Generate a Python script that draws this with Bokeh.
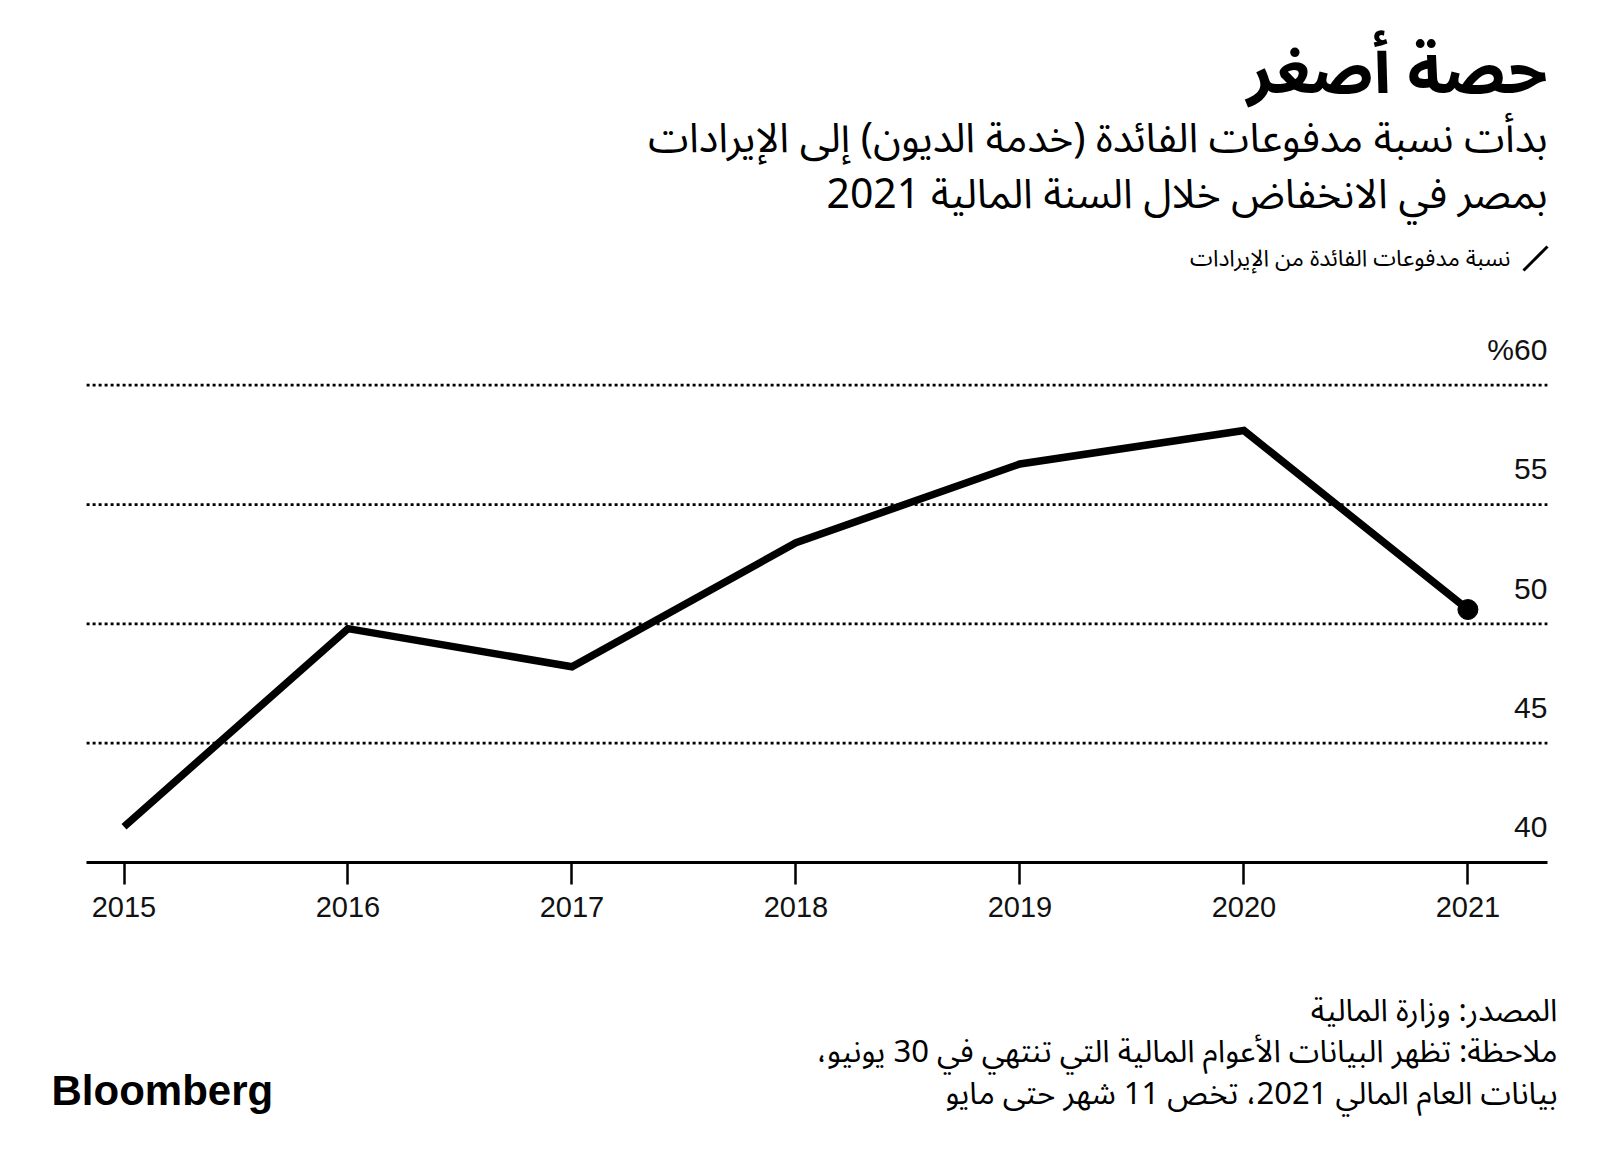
from bokeh.plotting import figure
from bokeh.models import Range1d, FixedTicker, ColumnDataSource
from bokeh.core.properties import value
from bokeh.embed import file_html
from bokeh.resources import INLINE

years = [2015, 2016, 2017, 2018, 2019, 2020, 2021]
ratio = [41.5, 49.8, 48.2, 53.4, 56.7, 58.1, 50.6]
y_ticks = [40, 45, 50, 55, 60]
y_tick_labels = ["40", "45", "50", "55", "%60"]

title = "حصة أصغر"
subtitle1 = "بدأت نسبة مدفوعات الفائدة (خدمة الديون) إلى الإيرادات"
subtitle2 = "بمصر في الانخفاض خلال السنة المالية 2021"
legend_text = "نسبة مدفوعات الفائدة من الإيرادات"
source_text = "المصدر: وزارة المالية"
note1 = "ملاحظة: تظهر البيانات الأعوام المالية التي تنتهي في 30 يونيو،\u200f"
note2 = "بيانات العام المالي 2021، تخص 11 شهر حتى مايو"

AR = "Noto Sans Arabic, Noto Sans, DejaVu Sans, sans-serif"
LAT = "Liberation Sans, Arial, sans-serif"

W, H = 1600, 1167
# plot area bounds (data units)
X_LO, X_HI = 2014.833, 2021.355
# full-canvas ranges so that header / footer texts can live in the same frame
XS, XE = 2014.4486, 2021.592
YB, YT = 27.22, 76.12


def dx(X):
    return XS + X / W * (XE - XS)


def dy(Y):
    return YT - Y / H * (YT - YB)


p = figure(width=W, height=H, output_backend="svg", toolbar_location=None,
           x_range=Range1d(XS, XE), y_range=Range1d(YB, YT),
           y_axis_location=None, min_border=0)
p.outline_line_color = None
p.background_fill_color = "white"
p.border_fill_color = "white"
p.grid.visible = False

ax = p.xaxis[0]
ax.fixed_location = y_ticks[0]
ax.bounds = (X_LO, X_HI)
ax.ticker = FixedTicker(ticks=years)
ax.axis_line_width = 3
ax.axis_line_color = "black"
ax.major_tick_out = 22
ax.major_tick_in = 0
ax.major_tick_line_width = 2.5
ax.major_tick_line_color = "black"
ax.minor_tick_line_color = None
ax.major_label_text_font = LAT
ax.major_label_text_font_size = "29px"
ax.major_label_text_color = "#111111"
ax.major_label_standoff = 12

# dotted gridlines over the plot area
gl = y_ticks[1:]
p.segment(x0=[X_LO] * len(gl), y0=gl, x1=[X_HI] * len(gl), y1=gl,
          line_color="black", line_width=2.8, line_dash="3 3")

src = ColumnDataSource(dict(x=years, y=ratio))
p.line("x", "y", source=src, line_width=7.5, line_color="black", line_join="miter")
p.scatter(x=[years[-1]], y=[ratio[-1]], size=20, color="black")

lab_src = ColumnDataSource(dict(x=[X_HI] * len(y_ticks), y=[t + 1.48 for t in y_ticks], t=y_tick_labels))
p.text("x", "y", text="t", source=lab_src, text_align="right", text_baseline="alphabetic",
       text_font=value(LAT), text_font_size="30px", text_color="#111111")


def txt(s, X, Y, size, align="right", bold=False, font=AR):
    p.text(x=[dx(X)], y=[dy(Y)], text=[s], text_align=align, text_baseline="middle",
           text_font=value(font), text_font_size=size,
           text_font_style="bold" if bold else "normal", text_color="black")


# header
txt(title, 1547, 72, "64px", bold=True)
txt(subtitle1, 1547, 138, "41px")
txt(subtitle2, 1547, 194, "41px")
txt(legend_text, 1510, 258, "23px")
p.segment(x0=[dx(1523)], y0=[dy(270)], x1=[dx(1547)], y1=[dy(246)], line_width=3, line_color="black")

# footer
txt(source_text, 1557, 1010, "31px")
txt(note1, 1557, 1051, "31px")
txt(note2, 1557, 1093, "31px")
txt("Bloomberg", 51, 1090, "42px", align="left", bold=True, font=LAT)

open("out.html", "w").write(file_html(p, INLINE))
